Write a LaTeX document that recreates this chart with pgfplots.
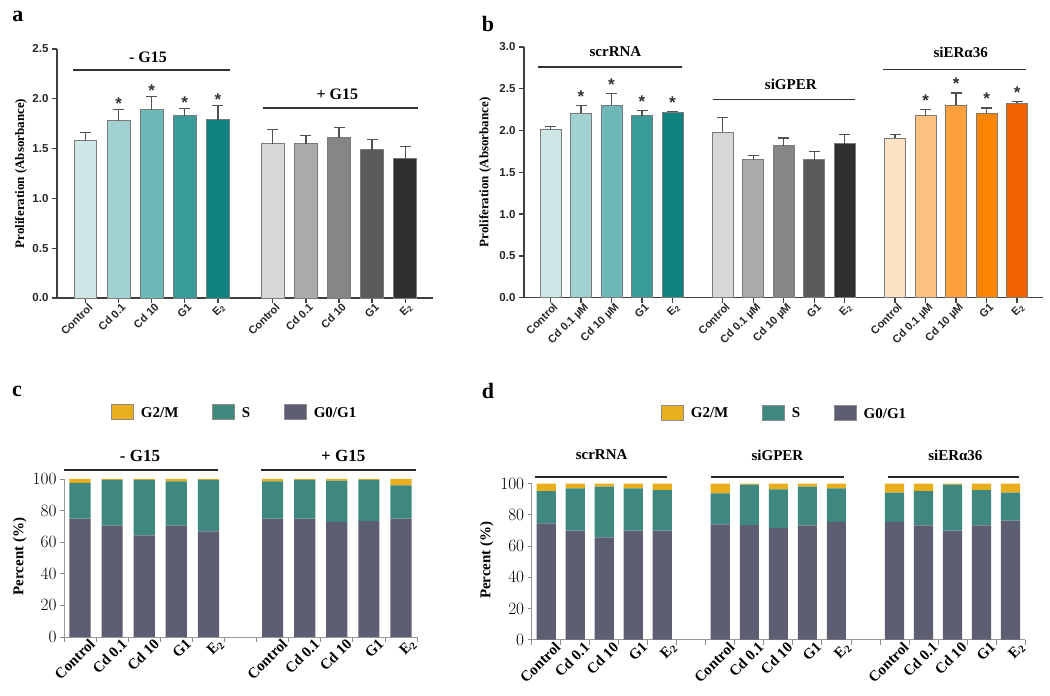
\documentclass[border=0pt]{standalone}
\usepackage{fontspec}
\setmainfont{Liberation Serif}
\newfontfamily\arial{Liberation Sans}
\usepackage{pgfplots}
\pgfplotsset{compat=1.18}

\definecolor{tA}{HTML}{CFE6E6}
\definecolor{tB}{HTML}{A2D1D1}
\definecolor{tC}{HTML}{6DB8B7}
\definecolor{tD}{HTML}{3A9C98}
\definecolor{tE}{HTML}{108280}
\definecolor{gA}{HTML}{D7D7D7}
\definecolor{gB}{HTML}{ABABAB}
\definecolor{gC}{HTML}{868686}
\definecolor{gD}{HTML}{5B5B5B}
\definecolor{gE}{HTML}{303030}
\definecolor{oA}{HTML}{FDE2C6}
\definecolor{oB}{HTML}{FDC07F}
\definecolor{oC}{HTML}{FCA03E}
\definecolor{oD}{HTML}{FB8400}
\definecolor{oE}{HTML}{F26200}
\definecolor{cG0}{HTML}{5D5E71}
\definecolor{cS}{HTML}{3E887F}
\definecolor{cG2}{HTML}{E9AE1C}
\definecolor{edge}{HTML}{7A7A7A}
\definecolor{errc}{HTML}{505050}

\pgfplotsset{
  abar/.style={ybar, bar shift=0pt, bar width=0.69, draw=edge, line width=0.9pt,
    error bars/y dir=plus, error bars/y explicit,
    error bars/error bar style={line width=1.3pt, draw=errc},
    error bars/error mark options={rotate=90, mark size=5.5pt, line width=1.3pt, draw=errc}},
  stars/.style={only marks, mark=none, point meta=explicit symbolic, nodes near coords,
    nodes near coords style={anchor=base, font=\arial\bfseries\fontsize{17}{17}\selectfont, text=black!80}},
  legimg/.style={legend image code/.code={\draw[##1, draw=black!45, line width=0.5pt] (0pt,-6pt) rectangle (22pt,9pt);}},
}

\begin{document}
\begin{tikzpicture}
\path[use as bounding box] (0pt,0pt) rectangle (1050pt,696pt);

\node[font=\bfseries\fontsize{22}{24}\selectfont] at (18pt,680pt) {a};
\node[font=\bfseries\fontsize{22}{24}\selectfont] at (488pt,672pt) {b};
\node[font=\bfseries\fontsize{22}{24}\selectfont] at (17pt,305pt) {c};
\node[font=\bfseries\fontsize{22}{24}\selectfont] at (488pt,305pt) {d};

% ---------------- panel a ----------------
\begin{axis}[
  at={(57pt,398pt)}, anchor=south west, scale only axis,
  width=376pt, height=249pt,
  xmin=-0.86, xmax=10.5, ymin=0, ymax=2.5,
  axis x line*=bottom, axis y line*=left,
  axis line style={line width=1.6pt, color=black!75},
  tick align=outside, major tick length=5pt,
  tick style={line width=1.3pt, color=black!75},
  ytick={0,0.5,1,1.5,2,2.5},
  yticklabel={\pgfmathprintnumber[fixed,fixed zerofill,precision=1,assume math mode=true]{\tick}},
  yticklabel style={font=\arial\bfseries\fontsize{11.5}{13}\selectfont, text=black!85},
  xtick={0,1,2,3,4,5.66,6.66,7.66,8.66,9.66},
  xticklabels={Control,Cd 0.1,Cd 10,G1,E\textsubscript{2},Control,Cd 0.1,Cd 10,G1,E\textsubscript{2}},
  xticklabel style={rotate=45, anchor=north east, inner sep=1pt, xshift=3pt,
    font=\arial\bfseries\fontsize{11}{13}\selectfont, text=black!85},
  ylabel={Proliferation (Absorbance)},
  ylabel style={at={(axis description cs:-0.096,0.5)}, anchor=center,
    font=\bfseries\fontsize{13}{15}\selectfont},
  clip=false,
]
\addplot[abar, fill=tA] coordinates {(0,1.58) +- (0,0.08)};
\addplot[abar, fill=tB] coordinates {(1,1.78) +- (0,0.11)};
\addplot[abar, fill=tC] coordinates {(2,1.89) +- (0,0.13)};
\addplot[abar, fill=tD] coordinates {(3,1.83) +- (0,0.07)};
\addplot[abar, fill=tE] coordinates {(4,1.79) +- (0,0.14)};
\addplot[abar, fill=gA] coordinates {(5.66,1.55) +- (0,0.14)};
\addplot[abar, fill=gB] coordinates {(6.66,1.55) +- (0,0.08)};
\addplot[abar, fill=gC] coordinates {(7.66,1.61) +- (0,0.10)};
\addplot[abar, fill=gD] coordinates {(8.66,1.49) +- (0,0.10)};
\addplot[abar, fill=gE] coordinates {(9.66,1.40) +- (0,0.12)};
\addplot[stars, nodes near coords style={yshift=0pt}] coordinates {(1,1.89)[*] (2,2.02)[*] (3,1.90)[*] (4,1.93)[*]};
\draw[line width=1.6pt, black!80] (axis cs:-0.38,2.29) -- (axis cs:4.36,2.29);
\draw[line width=1.6pt, black!80] (axis cs:5.36,1.91) -- (axis cs:10.04,1.91);
\node[font=\bfseries\fontsize{16}{18}\selectfont] at (axis cs:1.89,2.42) {- G15};
\node[font=\bfseries\fontsize{16}{18}\selectfont] at (axis cs:7.61,2.05) {+ G15};
\end{axis}

% ---------------- panel b ----------------
\begin{axis}[
  at={(524pt,398.3pt)}, anchor=south west, scale only axis,
  width=519pt, height=250.7pt,
  xmin=-0.87, xmax=16.15, ymin=0, ymax=3,
  axis x line*=bottom, axis y line*=left,
  axis line style={line width=1.6pt, color=black!75},
  tick align=outside, major tick length=5pt,
  tick style={line width=1.3pt, color=black!75},
  ytick={0,0.5,1,1.5,2,2.5,3},
  yticklabel={\pgfmathprintnumber[fixed,fixed zerofill,precision=1,assume math mode=true]{\tick}},
  yticklabel style={font=\arial\bfseries\fontsize{11.5}{13}\selectfont, text=black!85},
  xtick={0,1,2,3,4,5.65,6.65,7.65,8.65,9.65,11.3,12.3,13.3,14.3,15.3},
  xticklabels={Control,Cd 0.1 µM,Cd 10 µM,G1,E\textsubscript{2},Control,Cd 0.1 µM,Cd 10 µM,G1,E\textsubscript{2},Control,Cd 0.1 µM,Cd 10 µM,G1,E\textsubscript{2}},
  xticklabel style={rotate=45, anchor=north east, inner sep=1pt, xshift=3pt,
    font=\arial\bfseries\fontsize{11}{13}\selectfont, text=black!85},
  ylabel={Proliferation (Absorbance)},
  ylabel style={at={(axis description cs:-0.075,0.5)}, anchor=center,
    font=\bfseries\fontsize{13}{15}\selectfont},
  clip=false,
]
\addplot[abar, fill=tA] coordinates {(0,2.01) +- (0,0.04)};
\addplot[abar, fill=tB] coordinates {(1,2.21) +- (0,0.09)};
\addplot[abar, fill=tC] coordinates {(2,2.30) +- (0,0.14)};
\addplot[abar, fill=tD] coordinates {(3,2.18) +- (0,0.06)};
\addplot[abar, fill=tE] coordinates {(4,2.22) +- (0,0.01)};
\addplot[abar, fill=gA] coordinates {(5.65,1.98) +- (0,0.18)};
\addplot[abar, fill=gB] coordinates {(6.65,1.65) +- (0,0.05)};
\addplot[abar, fill=gC] coordinates {(7.65,1.82) +- (0,0.09)};
\addplot[abar, fill=gD] coordinates {(8.65,1.65) +- (0,0.10)};
\addplot[abar, fill=gE] coordinates {(9.65,1.84) +- (0,0.11)};
\addplot[abar, fill=oA] coordinates {(11.3,1.91) +- (0,0.04)};
\addplot[abar, fill=oB] coordinates {(12.3,2.18) +- (0,0.07)};
\addplot[abar, fill=oC] coordinates {(13.3,2.30) +- (0,0.15)};
\addplot[abar, fill=oD] coordinates {(14.3,2.21) +- (0,0.06)};
\addplot[abar, fill=oE] coordinates {(15.3,2.33) +- (0,0.02)};
\addplot[stars, nodes near coords style={yshift=3pt}] coordinates {(1,2.30)[*] (2,2.44)[*] (3,2.24)[*] (4,2.23)[*] (12.3,2.25)[*] (13.3,2.45)[*] (14.3,2.27)[*] (15.3,2.35)[*]};
\draw[line width=1.6pt, black!80] (axis cs:-0.41,2.76) -- (axis cs:4.31,2.76);
\draw[line width=1.6pt, black!80] (axis cs:5.33,2.37) -- (axis cs:9.98,2.37);
\draw[line width=1.6pt, black!80] (axis cs:10.9,2.73) -- (axis cs:15.59,2.73);
\node[font=\bfseries\fontsize{15}{17}\selectfont] at (axis cs:2.13,2.94) {scrRNA};
\node[font=\bfseries\fontsize{15}{17}\selectfont] at (axis cs:7.88,2.55) {siGPER};
\node[font=\bfseries\fontsize{15}{17}\selectfont] at (axis cs:13.45,2.93) {siERα36};
\end{axis}

% ---------------- panel c ----------------
\begin{axis}[
  at={(64pt,59pt)}, anchor=south west, scale only axis,
  width=353pt, height=158pt,
  xmin=-0.5, xmax=10.5, ymin=0, ymax=100,
  ybar stacked, bar width=0.66,
  axis x line*=bottom, axis y line*=left,
  axis line style={line width=0.8pt, color=black!40},
  tick align=outside, major tick length=4pt, minor tick length=5pt,
  tick style={line width=0.8pt, color=black!45},
  every major x tick/.append style={draw=none},
  ytick={0,20,40,60,80,100},
  yticklabel style={font=\bfseries\fontsize{16}{18}\selectfont},
  xtick={0,1,2,3,4,6,7,8,9,10},
  minor xtick={-0.5,0.5,1.5,2.5,3.5,4.5,5.5,6.5,7.5,8.5,9.5,10.5},
  xticklabels={Control,Cd 0.1,Cd 10,G1,E\textsubscript{2},Control,Cd 0.1,Cd 10,G1,E\textsubscript{2}},
  xticklabel style={rotate=45, anchor=north east, inner sep=0.5pt, xshift=9pt, yshift=-3pt,
    font=\bfseries\fontsize{15}{17}\selectfont},
  ylabel={Percent (\%)},
  ylabel style={at={(axis description cs:-0.125,0.51)}, anchor=center,
    font=\bfseries\fontsize{15}{17}\selectfont},
  legend columns=3, reverse legend,
  legend style={draw=none, fill=none, at={(axis description cs:0.484,1.418)}, anchor=center,
    font=\bfseries\fontsize{15}{17}\selectfont,
    /tikz/every odd column/.append style={column sep=5pt},
    /tikz/every even column/.append style={column sep=32pt}},
  clip=false,
]
\addplot[fill=cG0, draw=none, legimg] coordinates {(0,74.9) (1,70.5) (2,64.3) (3,70.5) (4,66.9) (6,74.9) (7,74.9) (8,72.8) (9,73.4) (10,74.9)};
\addplot[fill=cS, draw=none, legimg] coordinates {(0,22.6) (1,29.0) (2,35.2) (3,28.0) (4,32.6) (6,23.6) (7,24.6) (8,26.2) (9,26.1) (10,21.1)};
\addplot[fill=cG2, draw=none, legimg] coordinates {(0,2.5) (1,0.5) (2,0.5) (3,1.5) (4,0.5) (6,1.5) (7,0.5) (8,1.0) (9,0.5) (10,4.0)};
\legend{G0/G1,S,G2/M}
\draw[line width=1.8pt, black!85] (axis cs:-0.49,105.7) -- (axis cs:4.31,105.7);
\draw[line width=1.8pt, black!85] (axis cs:5.63,105.7) -- (axis cs:10.46,105.7);
\node[font=\bfseries\fontsize{17}{19}\selectfont] at (axis cs:1.87,114.6) {- G15};
\node[font=\bfseries\fontsize{17}{19}\selectfont] at (axis cs:8.2,114.6) {+ G15};
\end{axis}

% ---------------- panel d ----------------
\begin{axis}[
  at={(531.7pt,56.3pt)}, anchor=south west, scale only axis,
  width=493.3pt, height=156pt,
  xmin=-0.5, xmax=16.5, ymin=0, ymax=100,
  ybar stacked, bar width=0.66,
  axis x line*=bottom, axis y line*=left,
  axis line style={line width=0.8pt, color=black!40},
  tick align=outside, major tick length=4pt, minor tick length=5pt,
  tick style={line width=0.8pt, color=black!45},
  every major x tick/.append style={draw=none},
  ytick={0,20,40,60,80,100},
  yticklabel style={font=\bfseries\fontsize{16}{18}\selectfont},
  xtick={0,1,2,3,4,6,7,8,9,10,12,13,14,15,16},
  minor xtick={-0.5,0.5,1.5,2.5,3.5,4.5,5.5,6.5,7.5,8.5,9.5,10.5,11.5,12.5,13.5,14.5,15.5,16.5},
  xticklabels={Control,Cd 0.1,Cd 10,G1,E\textsubscript{2},Control,Cd 0.1,Cd 10,G1,E\textsubscript{2},Control,Cd 0.1,Cd 10,G1,E\textsubscript{2}},
  xticklabel style={rotate=45, anchor=north east, inner sep=0.5pt, xshift=8pt, yshift=-3pt,
    font=\bfseries\fontsize{15}{17}\selectfont},
  ylabel={Percent (\%)},
  ylabel style={at={(axis description cs:-0.091,0.51)}, anchor=center,
    font=\bfseries\fontsize{15}{17}\selectfont},
  legend columns=3, reverse legend,
  legend style={draw=none, fill=none, at={(axis description cs:0.513,1.453)}, anchor=center,
    font=\bfseries\fontsize{15}{17}\selectfont,
    /tikz/every odd column/.append style={column sep=5pt},
    /tikz/every even column/.append style={column sep=32pt}},
  clip=false,
]
\addplot[fill=cG0, draw=none, legimg] coordinates {(0,74.6) (1,69.9) (2,65.6) (3,69.9) (4,69.9) (6,73.9) (7,73.5) (8,71.6) (9,73.3) (10,75.6) (12,75.6) (13,73.3) (14,69.9) (15,73.3) (16,76.3)};
\addplot[fill=cS, draw=none, legimg] coordinates {(0,20.7) (1,27.1) (2,32.5) (3,27.1) (4,26.0) (6,19.9) (7,25.9) (8,24.8) (9,24.8) (10,21.4) (12,18.6) (13,22.0) (14,29.5) (15,22.6) (16,17.9)};
\addplot[fill=cG2, draw=none, legimg] coordinates {(0,4.7) (1,3.0) (2,1.9) (3,3.0) (4,4.1) (6,6.2) (7,0.6) (8,3.6) (9,1.9) (10,3.0) (12,5.8) (13,4.7) (14,0.6) (15,4.1) (16,5.8)};
\legend{G0/G1,S,G2/M}
\draw[line width=1.8pt, black!85] (axis cs:-0.4,104.5) -- (axis cs:4.17,104.5);
\draw[line width=1.8pt, black!85] (axis cs:5.69,104.5) -- (axis cs:10.26,104.5);
\draw[line width=1.8pt, black!85] (axis cs:11.78,104.5) -- (axis cs:16.28,104.5);
\node[font=\bfseries\fontsize{15}{17}\selectfont] at (axis cs:1.91,118.4) {scrRNA};
\node[font=\bfseries\fontsize{15}{17}\selectfont] at (axis cs:7.97,118.4) {siGPER};
\node[font=\bfseries\fontsize{15}{17}\selectfont] at (axis cs:14.1,118.4) {siERα36};
\end{axis}
\end{tikzpicture}
\end{document}
